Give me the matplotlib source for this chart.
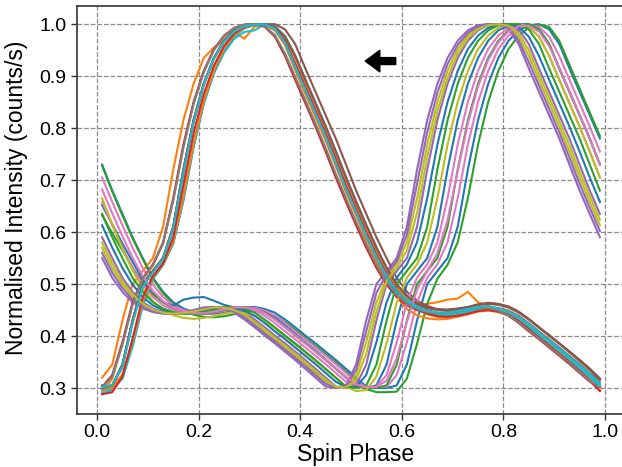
import matplotlib
matplotlib.use('Agg')
import matplotlib.pyplot as plt
import numpy as np

plt.rcParams['font.family'] = ['Liberation Sans', 'DejaVu Sans']

# 50 phase bins
phase = (np.arange(50) + 0.5) / 50

# pulse profiles peaking near phase 0.3
a01 = [0.320, 0.345, 0.430, 0.500, 0.525, 0.550, 0.610, 0.720, 0.815, 0.885,
       0.935, 0.955, 0.968, 0.985, 0.972, 0.995, 1.000, 0.990, 0.962, 0.915,
       0.870, 0.825, 0.780, 0.730, 0.680, 0.635, 0.590, 0.550, 0.512, 0.485,
       0.465, 0.458, 0.462, 0.465, 0.470, 0.472, 0.485, 0.465, 0.458, 0.452,
       0.445, 0.432, 0.417, 0.401, 0.386, 0.370, 0.354, 0.337, 0.320, 0.303]
a02 = [0.300, 0.305, 0.345, 0.430, 0.500, 0.525, 0.550, 0.610, 0.720, 0.815,
       0.885, 0.935, 0.968, 0.988, 0.998, 1.000, 1.000, 0.990, 0.962, 0.915,
       0.870, 0.825, 0.780, 0.730, 0.680, 0.635, 0.590, 0.550, 0.512, 0.485,
       0.465, 0.453, 0.446, 0.443, 0.443, 0.446, 0.450, 0.455, 0.456, 0.452,
       0.445, 0.432, 0.417, 0.401, 0.386, 0.370, 0.354, 0.337, 0.320, 0.303]
a03 = [0.300, 0.305, 0.345, 0.430, 0.500, 0.525, 0.550, 0.610, 0.720, 0.815,
       0.885, 0.935, 0.968, 0.988, 0.998, 1.000, 1.000, 1.000, 0.990, 0.962,
       0.915, 0.870, 0.825, 0.780, 0.730, 0.680, 0.635, 0.590, 0.550, 0.512,
       0.485, 0.468, 0.458, 0.451, 0.448, 0.451, 0.455, 0.460, 0.462, 0.460,
       0.455, 0.445, 0.432, 0.417, 0.401, 0.386, 0.370, 0.354, 0.337, 0.318]
a04 = [0.302, 0.302, 0.325, 0.388, 0.465, 0.512, 0.538, 0.580, 0.665, 0.768,
       0.850, 0.910, 0.952, 0.978, 0.993, 0.999, 1.000, 0.995, 0.976, 0.939,
       0.893, 0.848, 0.803, 0.755, 0.705, 0.658, 0.613, 0.570, 0.531, 0.499,
       0.475, 0.459, 0.450, 0.445, 0.443, 0.445, 0.448, 0.453, 0.456, 0.454,
       0.449, 0.439, 0.425, 0.409, 0.394, 0.378, 0.362, 0.346, 0.329, 0.312]
a05 = [0.295, 0.298, 0.318, 0.380, 0.458, 0.510, 0.540, 0.585, 0.670, 0.770,
       0.850, 0.905, 0.945, 0.972, 0.985, 0.988, 1.000, 0.992, 0.962, 0.915,
       0.870, 0.825, 0.780, 0.730, 0.680, 0.635, 0.590, 0.550, 0.510, 0.482,
       0.462, 0.450, 0.443, 0.440, 0.440, 0.443, 0.447, 0.452, 0.453, 0.450,
       0.443, 0.430, 0.415, 0.400, 0.385, 0.370, 0.354, 0.337, 0.320, 0.302]
a06 = [0.290, 0.318, 0.385, 0.462, 0.510, 0.535, 0.578, 0.662, 0.765, 0.848,
       0.908, 0.950, 0.976, 0.992, 0.999, 1.000, 0.998, 0.988, 0.960, 0.912,
       0.866, 0.821, 0.776, 0.727, 0.677, 0.632, 0.586, 0.545, 0.505, 0.475,
       0.452, 0.440, 0.434, 0.432, 0.433, 0.437, 0.442, 0.447, 0.449, 0.446,
       0.440, 0.428, 0.413, 0.398, 0.382, 0.366, 0.350, 0.333, 0.315, 0.295]
a07 = [0.302, 0.325, 0.388, 0.465, 0.512, 0.538, 0.580, 0.665, 0.768, 0.850,
       0.910, 0.952, 0.978, 0.993, 0.999, 1.000, 0.995, 0.976, 0.939, 0.893,
       0.848, 0.803, 0.755, 0.705, 0.658, 0.613, 0.570, 0.531, 0.499, 0.475,
       0.459, 0.450, 0.445, 0.443, 0.445, 0.448, 0.453, 0.456, 0.454, 0.449,
       0.439, 0.425, 0.409, 0.394, 0.378, 0.362, 0.346, 0.329, 0.312, 0.302]
a08 = [0.305, 0.303, 0.322, 0.385, 0.462, 0.510, 0.537, 0.578, 0.662, 0.765,
       0.848, 0.908, 0.950, 0.977, 0.992, 0.999, 1.000, 0.995, 0.976, 0.939,
       0.893, 0.848, 0.803, 0.755, 0.705, 0.658, 0.613, 0.570, 0.531, 0.499,
       0.478, 0.463, 0.456, 0.452, 0.451, 0.453, 0.456, 0.461, 0.464, 0.462,
       0.457, 0.447, 0.433, 0.417, 0.402, 0.386, 0.370, 0.354, 0.337, 0.318]
a09 = [0.298, 0.304, 0.340, 0.425, 0.497, 0.523, 0.548, 0.605, 0.712, 0.810,
       0.882, 0.933, 0.967, 0.987, 0.998, 1.000, 1.000, 0.991, 0.964, 0.918,
       0.873, 0.828, 0.783, 0.733, 0.683, 0.637, 0.592, 0.551, 0.513, 0.486,
       0.466, 0.454, 0.447, 0.444, 0.444, 0.447, 0.451, 0.456, 0.457, 0.453,
       0.446, 0.433, 0.418, 0.402, 0.387, 0.371, 0.355, 0.338, 0.321, 0.304]
a10 = [0.290, 0.296, 0.320, 0.382, 0.460, 0.510, 0.537, 0.578, 0.660, 0.762,
       0.846, 0.907, 0.950, 0.977, 0.993, 0.999, 1.000, 0.996, 0.977, 0.940,
       0.894, 0.849, 0.804, 0.756, 0.706, 0.659, 0.614, 0.570, 0.530, 0.497,
       0.472, 0.456, 0.447, 0.442, 0.440, 0.442, 0.445, 0.450, 0.453, 0.451,
       0.446, 0.436, 0.422, 0.406, 0.391, 0.375, 0.359, 0.343, 0.326, 0.308]
a11 = [0.300, 0.300, 0.326, 0.390, 0.467, 0.513, 0.539, 0.582, 0.668, 0.770,
       0.852, 0.911, 0.953, 0.979, 0.994, 1.000, 1.000, 0.994, 0.974, 0.936,
       0.890, 0.845, 0.800, 0.752, 0.702, 0.655, 0.610, 0.567, 0.527, 0.494,
       0.469, 0.452, 0.442, 0.437, 0.436, 0.438, 0.442, 0.448, 0.451, 0.449,
       0.444, 0.433, 0.418, 0.402, 0.386, 0.369, 0.352, 0.334, 0.315, 0.296]
a12 = [0.288, 0.292, 0.322, 0.395, 0.475, 0.515, 0.540, 0.590, 0.690, 0.790,
       0.865, 0.920, 0.958, 0.982, 0.995, 1.000, 1.000, 0.993, 0.968, 0.925,
       0.880, 0.835, 0.790, 0.741, 0.691, 0.645, 0.600, 0.558, 0.519, 0.488,
       0.466, 0.451, 0.443, 0.438, 0.437, 0.439, 0.443, 0.448, 0.450, 0.447,
       0.441, 0.429, 0.414, 0.398, 0.382, 0.366, 0.350, 0.333, 0.314, 0.294]
a13 = [0.300, 0.305, 0.345, 0.430, 0.500, 0.525, 0.550, 0.610, 0.720, 0.815,
       0.885, 0.935, 0.968, 0.988, 0.998, 1.000, 1.000, 0.995, 0.976, 0.939,
       0.893, 0.848, 0.803, 0.755, 0.705, 0.658, 0.613, 0.570, 0.531, 0.499,
       0.477, 0.462, 0.454, 0.450, 0.449, 0.451, 0.455, 0.460, 0.463, 0.461,
       0.456, 0.446, 0.432, 0.416, 0.401, 0.385, 0.369, 0.352, 0.335, 0.316]
a14 = [0.300, 0.322, 0.383, 0.460, 0.510, 0.537, 0.578, 0.660, 0.762, 0.846,
       0.907, 0.950, 0.977, 0.992, 0.999, 1.000, 0.996, 0.979, 0.944, 0.899,
       0.854, 0.809, 0.762, 0.712, 0.665, 0.620, 0.577, 0.537, 0.504, 0.479,
       0.462, 0.452, 0.446, 0.444, 0.445, 0.448, 0.452, 0.455, 0.454, 0.449,
       0.440, 0.426, 0.411, 0.396, 0.380, 0.364, 0.348, 0.331, 0.313, 0.301]
a15 = [0.302, 0.306, 0.342, 0.424, 0.495, 0.522, 0.548, 0.606, 0.714, 0.811,
       0.883, 0.934, 0.966, 0.986, 0.996, 0.999, 1.000, 0.991, 0.965, 0.919,
       0.874, 0.829, 0.784, 0.734, 0.684, 0.639, 0.594, 0.553, 0.515, 0.487,
       0.467, 0.455, 0.448, 0.445, 0.445, 0.448, 0.452, 0.456, 0.457, 0.453,
       0.446, 0.434, 0.419, 0.403, 0.388, 0.372, 0.356, 0.339, 0.322, 0.305]

# pulse profiles peaking between phase 0.75 and 0.87
b01 = [0.730, 0.680, 0.635, 0.590, 0.550, 0.512, 0.485, 0.465, 0.453, 0.446,
       0.443, 0.443, 0.446, 0.450, 0.455, 0.456, 0.452, 0.445, 0.432, 0.417,
       0.401, 0.386, 0.370, 0.354, 0.337, 0.320, 0.303, 0.300, 0.300, 0.305,
       0.345, 0.430, 0.500, 0.525, 0.550, 0.610, 0.720, 0.815, 0.885, 0.935,
       0.968, 0.988, 0.998, 1.000, 0.990, 0.962, 0.915, 0.870, 0.825, 0.780]
b02 = [0.728, 0.678, 0.632, 0.588, 0.548, 0.510, 0.482, 0.462, 0.449, 0.441,
       0.437, 0.436, 0.438, 0.442, 0.447, 0.449, 0.446, 0.439, 0.427, 0.412,
       0.396, 0.381, 0.365, 0.349, 0.332, 0.315, 0.298, 0.292, 0.292, 0.293,
       0.318, 0.385, 0.462, 0.510, 0.537, 0.580, 0.665, 0.768, 0.850, 0.910,
       0.952, 0.978, 0.993, 0.999, 0.995, 0.968, 0.922, 0.876, 0.830, 0.785]
b03 = [0.550, 0.512, 0.485, 0.465, 0.453, 0.446, 0.443, 0.443, 0.446, 0.450,
       0.455, 0.456, 0.452, 0.445, 0.432, 0.417, 0.401, 0.386, 0.370, 0.354,
       0.337, 0.320, 0.303, 0.300, 0.305, 0.345, 0.430, 0.500, 0.525, 0.550,
       0.610, 0.720, 0.815, 0.885, 0.935, 0.968, 0.988, 0.998, 1.000, 1.000,
       0.990, 0.962, 0.915, 0.870, 0.825, 0.780, 0.730, 0.680, 0.635, 0.590]
b04 = [0.705, 0.658, 0.613, 0.570, 0.531, 0.499, 0.475, 0.459, 0.450, 0.445,
       0.443, 0.445, 0.448, 0.453, 0.456, 0.454, 0.449, 0.439, 0.425, 0.409,
       0.394, 0.378, 0.362, 0.346, 0.329, 0.312, 0.302, 0.302, 0.302, 0.325,
       0.388, 0.465, 0.512, 0.538, 0.580, 0.665, 0.768, 0.850, 0.910, 0.952,
       0.978, 0.993, 0.999, 0.995, 0.976, 0.939, 0.893, 0.848, 0.803, 0.755]
b05 = [0.570, 0.531, 0.499, 0.475, 0.459, 0.450, 0.445, 0.443, 0.445, 0.448,
       0.453, 0.456, 0.454, 0.449, 0.439, 0.425, 0.409, 0.394, 0.378, 0.362,
       0.346, 0.329, 0.312, 0.302, 0.302, 0.325, 0.388, 0.465, 0.512, 0.538,
       0.580, 0.665, 0.768, 0.850, 0.910, 0.952, 0.978, 0.993, 0.999, 1.000,
       0.995, 0.976, 0.939, 0.893, 0.848, 0.803, 0.755, 0.705, 0.658, 0.613]
b06 = [0.652, 0.615, 0.578, 0.543, 0.508, 0.482, 0.465, 0.458, 0.470, 0.474,
       0.475, 0.468, 0.460, 0.455, 0.452, 0.450, 0.445, 0.435, 0.420, 0.404,
       0.388, 0.372, 0.355, 0.338, 0.321, 0.304, 0.300, 0.305, 0.345, 0.430,
       0.500, 0.525, 0.550, 0.610, 0.720, 0.815, 0.885, 0.935, 0.968, 0.988,
       0.998, 1.000, 1.000, 0.990, 0.962, 0.915, 0.870, 0.825, 0.780, 0.730]
b07 = [0.632, 0.598, 0.565, 0.532, 0.502, 0.480, 0.465, 0.453, 0.446, 0.443,
       0.443, 0.446, 0.450, 0.455, 0.456, 0.452, 0.445, 0.432, 0.417, 0.401,
       0.386, 0.370, 0.354, 0.337, 0.320, 0.303, 0.300, 0.300, 0.305, 0.345,
       0.430, 0.500, 0.525, 0.550, 0.610, 0.720, 0.815, 0.885, 0.935, 0.968,
       0.988, 0.998, 1.000, 0.990, 0.962, 0.915, 0.870, 0.825, 0.780, 0.730]
b08 = [0.590, 0.550, 0.512, 0.485, 0.465, 0.453, 0.446, 0.443, 0.443, 0.446,
       0.450, 0.455, 0.456, 0.452, 0.445, 0.432, 0.417, 0.401, 0.386, 0.370,
       0.354, 0.337, 0.320, 0.303, 0.300, 0.305, 0.345, 0.430, 0.500, 0.525,
       0.550, 0.610, 0.720, 0.815, 0.885, 0.935, 0.968, 0.988, 0.998, 1.000,
       1.000, 0.990, 0.962, 0.915, 0.870, 0.825, 0.780, 0.730, 0.680, 0.635]
b09 = [0.658, 0.613, 0.570, 0.531, 0.499, 0.475, 0.459, 0.450, 0.445, 0.443,
       0.445, 0.448, 0.453, 0.456, 0.454, 0.449, 0.439, 0.425, 0.409, 0.394,
       0.378, 0.362, 0.346, 0.329, 0.312, 0.302, 0.302, 0.302, 0.325, 0.388,
       0.465, 0.512, 0.538, 0.580, 0.665, 0.768, 0.850, 0.910, 0.952, 0.978,
       0.993, 0.999, 0.995, 0.976, 0.939, 0.893, 0.848, 0.803, 0.755, 0.705]
b10 = [0.665, 0.615, 0.568, 0.526, 0.492, 0.467, 0.450, 0.440, 0.435, 0.433,
       0.435, 0.438, 0.443, 0.446, 0.444, 0.439, 0.429, 0.415, 0.399, 0.384,
       0.368, 0.352, 0.336, 0.319, 0.303, 0.294, 0.296, 0.322, 0.386, 0.464,
       0.512, 0.538, 0.580, 0.665, 0.768, 0.850, 0.910, 0.952, 0.978, 0.993,
       0.999, 1.000, 0.995, 0.976, 0.939, 0.893, 0.848, 0.803, 0.755, 0.705]
b11 = [0.613, 0.570, 0.531, 0.499, 0.475, 0.459, 0.450, 0.445, 0.443, 0.445,
       0.448, 0.453, 0.456, 0.454, 0.449, 0.439, 0.425, 0.409, 0.394, 0.378,
       0.362, 0.346, 0.329, 0.312, 0.302, 0.302, 0.325, 0.388, 0.465, 0.512,
       0.538, 0.580, 0.665, 0.768, 0.850, 0.910, 0.952, 0.978, 0.993, 0.999,
       1.000, 0.995, 0.976, 0.939, 0.893, 0.848, 0.803, 0.755, 0.705, 0.658]
b12 = [0.635, 0.590, 0.550, 0.512, 0.485, 0.465, 0.453, 0.446, 0.443, 0.443,
       0.446, 0.450, 0.455, 0.456, 0.452, 0.445, 0.432, 0.417, 0.401, 0.386,
       0.370, 0.354, 0.337, 0.320, 0.303, 0.300, 0.305, 0.345, 0.430, 0.500,
       0.525, 0.550, 0.610, 0.720, 0.815, 0.885, 0.935, 0.968, 0.988, 0.998,
       1.000, 1.000, 0.990, 0.962, 0.915, 0.870, 0.825, 0.780, 0.730, 0.680]
b13 = [0.560, 0.522, 0.492, 0.470, 0.456, 0.448, 0.444, 0.443, 0.446, 0.449,
       0.454, 0.456, 0.453, 0.447, 0.436, 0.421, 0.405, 0.390, 0.374, 0.358,
       0.342, 0.325, 0.308, 0.301, 0.304, 0.335, 0.409, 0.483, 0.519, 0.544,
       0.595, 0.693, 0.792, 0.868, 0.923, 0.960, 0.983, 0.996, 1.000, 1.000,
       0.993, 0.969, 0.927, 0.882, 0.837, 0.792, 0.743, 0.693, 0.647, 0.602]
b14 = [0.682, 0.636, 0.592, 0.551, 0.515, 0.487, 0.467, 0.455, 0.448, 0.444,
       0.444, 0.447, 0.451, 0.455, 0.455, 0.452, 0.444, 0.432, 0.417, 0.402,
       0.386, 0.370, 0.354, 0.338, 0.321, 0.307, 0.302, 0.302, 0.314, 0.357,
       0.427, 0.489, 0.525, 0.559, 0.623, 0.717, 0.809, 0.880, 0.931, 0.965,
       0.986, 0.996, 0.997, 0.986, 0.958, 0.916, 0.871, 0.826, 0.779, 0.730]
b15 = [0.580, 0.540, 0.505, 0.480, 0.462, 0.451, 0.445, 0.443, 0.444, 0.447,
       0.451, 0.455, 0.455, 0.450, 0.442, 0.428, 0.413, 0.397, 0.382, 0.366,
       0.350, 0.333, 0.316, 0.302, 0.301, 0.315, 0.366, 0.447, 0.506, 0.531,
       0.565, 0.637, 0.744, 0.832, 0.897, 0.943, 0.973, 0.990, 0.998, 1.000,
       0.997, 0.983, 0.950, 0.904, 0.859, 0.814, 0.767, 0.717, 0.669, 0.624]

late = [b01, b02, b03, b04, b05, b06, b07, b08, b09, b10, b11, b12, b13, b14, b15]
early = [a01, a02, a03, a04, a05, a06, a07, a08, a09, a10, a11, a12, a13, a14, a15]

fig = plt.figure(figsize=(6.22, 4.67), dpi=100)
ax = fig.add_axes([0.1238, 0.1135, 0.8807, 0.8737])

# alternate so the default colour cycle splits between the two groups
for b, a in zip(late, early):
    ax.plot(phase, b, lw=1.5)
    ax.plot(phase, a, lw=1.5)

ax.annotate('', xy=(0.528, 0.929), xytext=(0.588, 0.929),
            arrowprops=dict(facecolor='black', edgecolor='black', width=5.0,
                            headwidth=15.5, headlength=10.5, shrink=0.0))

ax.set_xlim(-0.0394, 1.039)
ax.set_ylim(0.25, 1.035)
ax.set_xticks([0.0, 0.2, 0.4, 0.6, 0.8, 1.0])
ax.set_yticks([0.3, 0.4, 0.5, 0.6, 0.7, 0.8, 0.9, 1.0])
ax.grid(True, linestyle='--', color='#8a8a8a', linewidth=0.9)
ax.set_axisbelow(True)
for s in ax.spines.values():
    s.set_color('#333333')
    s.set_linewidth(1.2)
ax.tick_params(direction='out', length=4, width=1, color='#333333', labelsize=14)
ax.set_xlabel('Spin Phase', fontsize=16.5)
ax.set_ylabel('Normalised Intensity (counts/s)', fontsize=16.5)
ax.xaxis.set_label_coords(0.508, -0.071)
ax.yaxis.set_label_coords(-0.089, 0.53)

fig.savefig('out.png', dpi=100)
